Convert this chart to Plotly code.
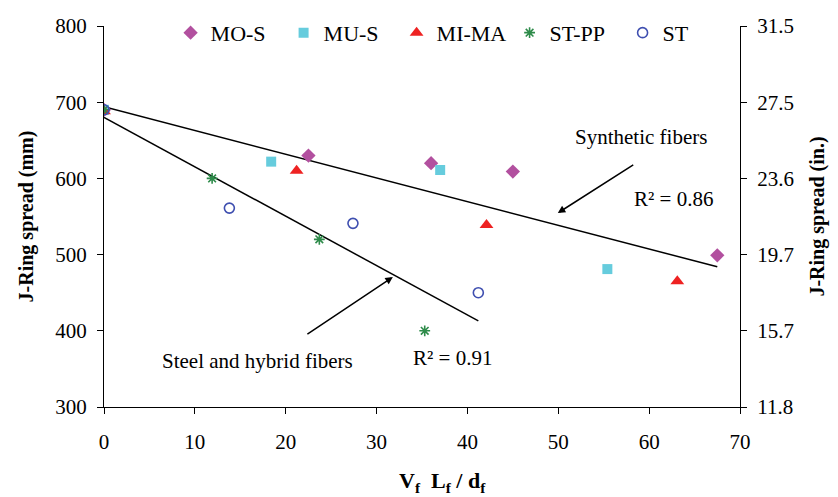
import plotly.graph_objects as go

# ---- data ----
mos_x = [0, 22.5, 36.0, 45.0, 67.5]
mos_y = [690, 630, 620, 609, 499]
mus_x = [0, 18.4, 37.0, 55.4]
mus_y = [690, 622, 611, 481]
mima_x = [0, 21.2, 42.1, 63.1]
mima_y = [688, 610, 539, 465]
stpp_x = [0, 11.9, 23.7, 35.3]
stpp_y = [690, 600, 520, 400]
st_x = [0, 13.8, 27.4, 41.2]
st_y = [690, 561, 541, 450]

synth_trend_x = [0, 67.5]
synth_trend_y = [694, 484]
steel_trend_x = [0, 41.2]
steel_trend_y = [680, 413]

x_ticks = [0, 10, 20, 30, 40, 50, 60, 70]
mm_ticks = [300, 400, 500, 600, 700, 800]
in_labels = ["11.8", "15.7", "19.7", "23.6", "27.5", "31.5"]

FONT = "Liberation Serif"
fig = go.Figure()

fig.add_trace(go.Scatter(x=synth_trend_x, y=synth_trend_y, mode="lines",
                         line=dict(color="black", width=1.5), showlegend=False, hoverinfo="skip"))
fig.add_trace(go.Scatter(x=steel_trend_x, y=steel_trend_y, mode="lines",
                         line=dict(color="black", width=1.5), showlegend=False, hoverinfo="skip"))

fig.add_trace(go.Scatter(x=mos_x, y=mos_y, mode="markers", name="MO-S",
                         marker=dict(symbol="diamond", size=11, color="#B2509F")))
fig.add_trace(go.Scatter(x=mus_x, y=mus_y, mode="markers", name="MU-S",
                         marker=dict(symbol="square", size=10, color="#66CCDD")))
fig.add_trace(go.Scatter(x=mima_x, y=mima_y, mode="markers", name="MI-MA",
                         marker=dict(symbol="triangle-up", size=12, color="#EE2222")))
fig.add_trace(go.Scatter(x=stpp_x, y=stpp_y, mode="markers", name="ST-PP",
                         marker=dict(symbol="asterisk-open", size=9, color="#2E8B4A",
                                     line=dict(color="#2E8B4A", width=1.6))))
fig.add_trace(go.Scatter(x=st_x, y=st_y, mode="markers", name="ST",
                         marker=dict(symbol="circle-open", size=10, color="#3F4FB0",
                                     line=dict(color="#3F4FB0", width=1.6))))
# carrier for right axis
fig.add_trace(go.Scatter(x=[None], y=[None], yaxis="y2", showlegend=False, hoverinfo="skip"))

axis_common = dict(showline=True, linecolor="black", linewidth=1.3, ticks="outside",
                   tickcolor="black", ticklen=6, tickwidth=1.3, showgrid=False, zeroline=False,
                   tickfont=dict(family=FONT, size=21, color="black"))

fig.update_layout(
    width=838, height=497,
    margin=dict(l=104, r=98, t=20, b=90),
    paper_bgcolor="white", plot_bgcolor="white",
    font=dict(family=FONT, size=21, color="black"),
    xaxis=dict(range=[0, 70], tickvals=x_ticks, ticklabelstandoff=10, **axis_common),
    yaxis=dict(range=[300, 800], tickvals=mm_ticks, ticklabelstandoff=6,
               title=dict(text="<b>J-Ring spread (mm)</b>", font=dict(family=FONT, size=20), standoff=16),
               **axis_common),
    yaxis2=dict(range=[300, 800], tickvals=mm_ticks, ticktext=in_labels, overlaying="y", side="right",
                ticklabelstandoff=6,
                title=dict(text="<b>J-Ring spread (in.)</b>", font=dict(family=FONT, size=20), standoff=16),
                **axis_common),
    legend=dict(orientation="h", x=0.1047, xanchor="left", y=0.982, yanchor="middle",
                font=dict(family=FONT, size=22), bgcolor="rgba(0,0,0,0)", itemwidth=30,
                entrywidth=68, entrywidthmode="pixels"),
    showlegend=True,
)

fig.add_annotation(text="<b>V<sub>f</sub>  L<sub>f</sub> / d<sub>f</sub></b>", xref="paper", yref="paper",
                   x=(442 - 104) / 636, y=-(483 - 407) / 387, showarrow=False,
                   font=dict(family=FONT, size=22), xanchor="center", yanchor="middle")
fig.add_annotation(text="Synthetic fibers", x=(641 - 104) / 9.09, y=800 - (133 - 20) / 0.774,
                   showarrow=False, font=dict(family=FONT, size=21))
fig.add_annotation(text="R² = 0.86", x=(674 - 104) / 9.09, y=800 - (196 - 20) / 0.774,
                   showarrow=False, font=dict(family=FONT, size=21))
fig.add_annotation(text="Steel and hybrid fibers", x=(258 - 104) / 9.09, y=800 - (360 - 20) / 0.774,
                   showarrow=False, font=dict(family=FONT, size=21))
fig.add_annotation(text="R² = 0.91", x=(453 - 104) / 9.09, y=800 - (357 - 20) / 0.774,
                   showarrow=False, font=dict(family=FONT, size=21))
# arrows
fig.add_annotation(x=(558 - 104) / 9.09, y=800 - (210 - 20) / 0.774,
                   ax=(635 - 104) / 9.09, ay=800 - (160 - 20) / 0.774, axref="x", ayref="y",
                   text="", showarrow=True, arrowhead=2, arrowsize=1, arrowwidth=1.5, arrowcolor="black")
fig.add_annotation(x=(393 - 104) / 9.09, y=800 - (275 - 20) / 0.774,
                   ax=(306 - 104) / 9.09, ay=800 - (334 - 20) / 0.774, axref="x", ayref="y",
                   text="", showarrow=True, arrowhead=2, arrowsize=1, arrowwidth=1.5, arrowcolor="black")

fig.write_html("out.html")
